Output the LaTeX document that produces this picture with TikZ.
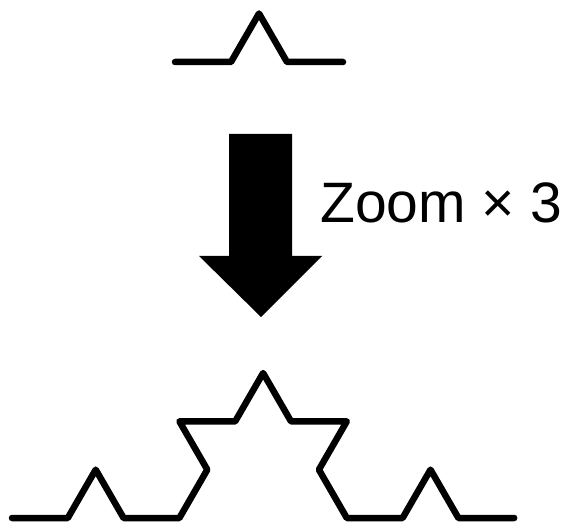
\documentclass[tikz,border=0pt]{standalone}
\usepackage{fontspec}
\setmainfont{Liberation Sans}
\begin{document}
\begin{tikzpicture}[x=1pt,y=1pt,
  koch/.style={line width=6.5pt,line cap=round,line join=round,black},
  label/.style={font=\fontsize{57}{62}\selectfont,inner sep=0pt,anchor=base west}]
\useasboundingbox (0,0) rectangle (568,523);
% top curve (level 1)
\def\s{56pt}
\draw[koch] (175,461) coordinate (t0)
  -- ++(0:\s) -- ++(60:\s) -- ++(-60:\s) -- ++(0:\s);
% arrow
\fill[black] (229,389) coordinate (a1) -- (292,389) -- (292,267) -- (322,267)
  -- (261,206) coordinate (tip) -- (199,267) -- (229,267) -- cycle;
\node[label] (z) at (320,300) {Zoom × 3};
% bottom curve (level 2)
\def\b{55.8pt}
\draw[koch] (12,5) coordinate (b0)
  -- ++(0:\b) -- ++(60:\b) -- ++(-60:\b) -- ++(0:\b)
  -- ++(60:\b) -- ++(120:\b) -- ++(0:\b) -- ++(60:\b)
  -- ++(-60:\b) -- ++(0:\b) -- ++(-120:\b) -- ++(-60:\b)
  -- ++(0:\b) -- ++(60:\b) -- ++(-60:\b) -- ++(0:\b);
\end{tikzpicture}
\end{document}
